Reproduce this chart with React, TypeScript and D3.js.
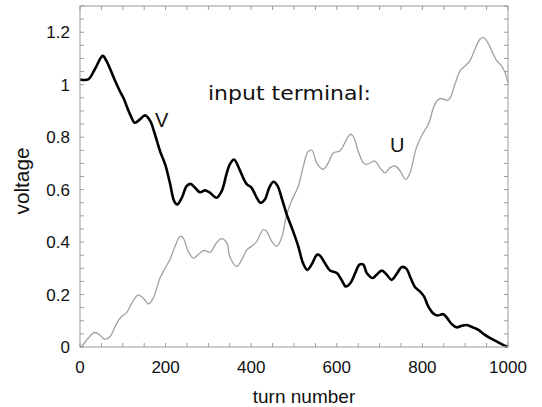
import React from "react";
import * as d3 from "d3";

const vX = [0, 19, 35, 53, 62, 82, 93, 101, 117, 128, 140, 152, 164, 175, 187, 199, 210, 220, 227, 238, 249, 258, 269, 280, 292, 302, 319, 331, 343, 350, 360, 371, 383, 390, 401, 413, 422, 432, 442, 452, 461, 471, 483, 498, 510, 521, 531, 541, 554, 561, 572, 584, 600, 611, 621, 632, 643, 653, 662, 670, 684, 693, 705, 717, 728, 740, 752, 763, 771, 783, 794, 804, 813, 825, 835, 849, 858, 868, 880, 892, 903, 919, 931, 946, 962, 977, 985, 1000];
const vY = [1.02, 1.02, 1.06, 1.11, 1.09, 1.015, 0.976, 0.951, 0.887, 0.855, 0.868, 0.883, 0.862, 0.811, 0.747, 0.696, 0.626, 0.556, 0.543, 0.569, 0.613, 0.622, 0.607, 0.59, 0.597, 0.59, 0.569, 0.594, 0.664, 0.696, 0.715, 0.683, 0.639, 0.62, 0.607, 0.569, 0.55, 0.562, 0.607, 0.63, 0.616, 0.569, 0.505, 0.441, 0.384, 0.32, 0.294, 0.314, 0.352, 0.348, 0.32, 0.292, 0.282, 0.256, 0.231, 0.244, 0.282, 0.314, 0.314, 0.282, 0.263, 0.275, 0.291, 0.275, 0.256, 0.279, 0.305, 0.298, 0.269, 0.228, 0.212, 0.192, 0.157, 0.129, 0.12, 0.125, 0.11, 0.088, 0.075, 0.081, 0.084, 0.074, 0.065, 0.046, 0.031, 0.018, 0.011, 0.0];

const uX = [0, 4, 16, 33, 43, 58, 70, 86, 97, 109, 121, 136, 148, 160, 171, 187, 199, 210, 222, 234, 241, 253, 265, 276, 290, 304, 319, 331, 343, 350, 366, 378, 390, 401, 413, 428, 436, 448, 460, 471, 483, 494, 510, 522, 533, 542, 553, 568, 580, 592, 607, 619, 631, 638, 650, 662, 670, 689, 701, 713, 724, 736, 748, 761, 771, 786, 802, 814, 829, 841, 861, 876, 888, 900, 911, 923, 935, 942, 950, 962, 974, 985, 993, 1000];
const uY = [0.0, 0.003, 0.027, 0.055, 0.05, 0.029, 0.039, 0.091, 0.116, 0.131, 0.167, 0.199, 0.186, 0.164, 0.186, 0.263, 0.301, 0.333, 0.384, 0.422, 0.416, 0.364, 0.339, 0.352, 0.368, 0.361, 0.397, 0.413, 0.397, 0.345, 0.307, 0.333, 0.371, 0.384, 0.403, 0.447, 0.441, 0.403, 0.384, 0.416, 0.505, 0.556, 0.613, 0.69, 0.745, 0.75, 0.702, 0.677, 0.702, 0.74, 0.747, 0.779, 0.811, 0.804, 0.747, 0.702, 0.696, 0.709, 0.683, 0.664, 0.683, 0.69, 0.671, 0.639, 0.664, 0.76, 0.817, 0.849, 0.925, 0.947, 0.942, 1.002, 1.053, 1.072, 1.091, 1.136, 1.174, 1.18, 1.168, 1.129, 1.091, 1.072, 1.046, 1.008];

const xTickLabels = [0, 200, 400, 600, 800, 1000];
const yTickLabels = [0, 0.2, 0.4, 0.6, 0.8, 1, 1.2];

export default function App() {
  const W = 542, H = 407;
  const L = 80, R = 508, T = 6, B = 347;
  const x = d3.scaleLinear().domain([0, 1000]).range([L, R]);
  const y = d3.scaleLinear().domain([0, 1.3]).range([B, T]);
  const line = d3
    .line<[number, number]>()
    .x((d) => x(d[0]))
    .y((d) => y(d[1]))
    .curve(d3.curveCatmullRom.alpha(0.5));
  const vPts = vX.map((v, i) => [v, vY[i]] as [number, number]);
  const uPts = uX.map((v, i) => [v, uY[i]] as [number, number]);
  const xMinor = d3.range(0, 1001, 50);
  const yMinor = d3.range(0, 1.3001, 0.05);
  const frame = "#9a9a9a";
  const font = "'Liberation Sans', Arial, sans-serif";
  const tl = 4;
  return (
    <svg width={W} height={H} style={{ position: "absolute", left: 0, top: 0 }} fontFamily={font}>
      <rect x={0} y={0} width={W} height={H} fill="#fff" />
      <path d={line(uPts) || ""} fill="none" stroke="#a0a0a0" strokeWidth={1.3} />
      <path d={line(vPts) || ""} fill="none" stroke="#000" strokeWidth={2.6} strokeLinejoin="round" />
      <rect x={L} y={T} width={R - L} height={B - T} fill="none" stroke={frame} strokeWidth={1} />
      {xMinor.map((t) => (
        <g key={"xt" + t}>
          <line x1={x(t)} x2={x(t)} y1={B} y2={B - tl} stroke={frame} />
          <line x1={x(t)} x2={x(t)} y1={T} y2={T + tl} stroke={frame} />
        </g>
      ))}
      {yMinor.map((t, i) => (
        <g key={"yt" + i}>
          <line x1={L} x2={L + tl} y1={y(t)} y2={y(t)} stroke={frame} />
          <line x1={R} x2={R - tl} y1={y(t)} y2={y(t)} stroke={frame} />
        </g>
      ))}
      {xTickLabels.map((t) => (
        <text key={"xl" + t} x={x(t)} y={373} textAnchor="middle" fontSize={17} fill="#111">
          {t}
        </text>
      ))}
      {yTickLabels.map((t) => (
        <text key={"yl" + t} x={70} y={y(t) + 6} textAnchor="end" fontSize={17} fill="#111">
          {String(t)}
        </text>
      ))}
      <text x={(L + R) / 2 + 10} y={403} textAnchor="middle" fontSize={19} fill="#111">
        turn number
      </text>
      <text
        transform={`translate(29,${181}) rotate(-90)`}
        textAnchor="middle"
        fontSize={20}
        fill="#111"
        textLength={67}
        lengthAdjust="spacingAndGlyphs"
      >
        voltage
      </text>
      <text
        x={208}
        y={100}
        fontSize={19}
        fontFamily="'DejaVu Sans', sans-serif"
        fill="#111"
        textLength={163}
        lengthAdjust="spacingAndGlyphs"
      >
        input terminal:
      </text>
      <text x={155} y={127} fontSize={20} fill="#111">
        V
      </text>
      <text x={390} y={152} fontSize={20} fill="#111">
        U
      </text>
    </svg>
  );
}
